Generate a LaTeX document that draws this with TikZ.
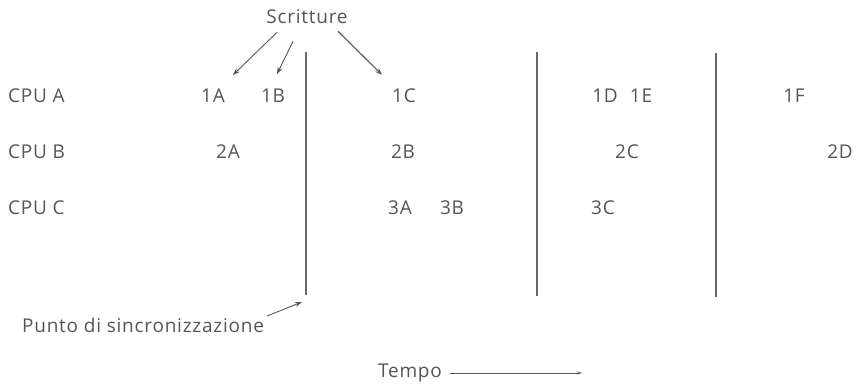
\documentclass[tikz,border=0pt]{standalone}
\usepackage{fontspec}
\setmainfont[LetterSpace=4]{Open Sans}
\usetikzlibrary{arrows.meta,positioning}
\definecolor{txtgray}{RGB}{85,85,85}
\definecolor{syncgray}{RGB}{105,105,105}
\begin{document}
\begin{tikzpicture}[x=1pt, y=-1pt, >={Stealth[length=7pt,width=5pt]},
    every node/.style={font=\fontsize{19}{22}\selectfont, text=txtgray, inner sep=0pt},
    lbl/.style={anchor=west},
    wr/.style={->, txtgray, line width=0.9pt},
    sync/.style={syncgray, line width=2.2pt}]
  \useasboundingbox (0,0) rectangle (858,386);
  % row labels
  \node[lbl] (cpuA) at (8,96) {CPU A};
  \node[lbl] (cpuB) at (8,152) {CPU B};
  \node[lbl] (cpuC) at (8,208) {CPU C};
  % writes
  \node (a1) at (213,96) {1A};
  \node (b1) at (273,96) {1B};
  \node (c1) at (404,96) {1C};
  \node (d1) at (605,96) {1D};
  \node (e1) at (641,96) {1E};
  \node (f1) at (794,96) {1F};
  \node (a2) at (228,152) {2A};
  \node (b2) at (403,152) {2B};
  \node (c2) at (627,152) {2C};
  \node (d2) at (840,152) {2D};
  \node (a3) at (400,208) {3A};
  \node (b3) at (452,208) {3B};
  \node (c3) at (603,208) {3C};
  % synchronisation points
  \coordinate (s1top) at (306,52);  \coordinate (s1bot) at (306,295);
  \coordinate (s2top) at (537,52);  \coordinate (s2bot) at (537,296);
  \coordinate (s3top) at (716,53);  \coordinate (s3bot) at (716,297);
  \draw[sync] (s1top) -- (s1bot);
  \draw[sync] (s2top) -- (s2bot);
  \draw[sync] (s3top) -- (s3bot);
  % annotations
  \node (scr) at (307,17) {Scritture};
  \draw[wr] ([xshift=-30pt,yshift=-8pt]scr.south) -- ([xshift=20pt,yshift=14pt]a1.north);
  \draw[wr] ([xshift=-14pt,yshift=-17pt]scr.south) -- ([xshift=4pt,yshift=15pt]b1.north);
  \draw[wr, line width=1.1pt] ([xshift=31pt,yshift=-7pt]scr.south) -- ([xshift=-22pt,yshift=14pt]c1.north);
  \node[lbl] (punto) at (22,325) {Punto di sincronizzazione};
  \draw[wr] ([xshift=3pt,yshift=9pt]punto.east) -- ([xshift=-4pt,yshift=-7pt]s1bot);
  \node[lbl] (tempo) at (378,373) {Tempo};
  \coordinate (tend) at (582,373);
  \draw[wr, >={Stealth[length=5pt,width=3pt]}] ([xshift=8pt]tempo.east) -- (tend);
\end{tikzpicture}
\end{document}
